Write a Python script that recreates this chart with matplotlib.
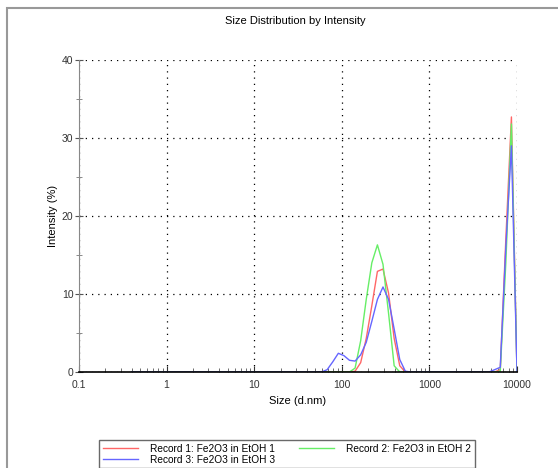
import matplotlib
matplotlib.use("Agg")
import matplotlib.pyplot as plt
from matplotlib.patches import Rectangle
from matplotlib.ticker import FixedLocator, NullFormatter, MultipleLocator

plt.rcParams['font.family'] = ['Liberation Sans', 'DejaVu Sans']

# size bins (d.nm) - only the ones around the peaks, zeros elsewhere
sizes = [0.4, 50.75, 58.77, 68.06, 78.82, 91.28, 105.7, 122.4, 141.8, 164.2,
         190.1, 220.2, 255.0, 295.3, 342.0, 396.1, 458.7, 531.2, 615.1,
         4801, 5560, 6439, 7456, 8635, 10000]

rec1 = [0, 0, 0, 0, 0, 0, 0, 0, 0.1, 1.2,
        4.3, 8.5, 12.9, 13.2, 10.1, 4.3, 0.8, 0, 0,
        0, 0, 0.3, 17.0, 32.7, 0]
rec2 = [0, 0, 0, 0, 0, 0, 0, 0, 0.5, 4.0,
        9.3, 14.0, 16.3, 13.8, 7.5, 0.8, 0, 0, 0,
        0, 0, 0.1, 14.0, 31.8, 0]
rec3 = [0, 0, 0, 0.3, 1.3, 2.4, 2.1, 1.5, 1.4, 2.2,
        3.8, 6.5, 9.3, 10.9, 9.3, 5.5, 1.6, 0.1, 0,
        0, 0.3, 0.6, 16.0, 29.0, 0]

labels = ["Record 1: Fe2O3 in EtOH 1",
          "Record 2: Fe2O3 in EtOH 2",
          "Record 3: Fe2O3 in EtOH 3"]
colors = ["#ff6666", "#66ee66", "#6666ff"]

fig = plt.figure(figsize=(5.58, 4.68), dpi=100)
ax = fig.add_axes([79/558, 96/468, 438/558, 312/468])

lines = []
for y, c, lab in zip([rec1, rec2, rec3], colors, labels):
    l, = ax.plot(sizes, y, color=c, lw=1.0, label=lab, zorder=2)
    lines.append(l)

ax.set_xscale('log')
ax.set_xlim(0.1, 10000)
ax.set_ylim(0, 40)
ax.xaxis.set_major_locator(FixedLocator([0.1, 1, 10, 100, 1000, 10000]))
ax.set_xticklabels(["0.1", "1", "10", "100", "1000", "10000"])
minors = [m * 10.0**e for e in range(-1, 4) for m in range(2, 10)]
ax.xaxis.set_minor_locator(FixedLocator(minors))
ax.xaxis.set_minor_formatter(NullFormatter())
ax.yaxis.set_major_locator(MultipleLocator(10))
ax.yaxis.set_minor_locator(MultipleLocator(5))

ax.tick_params(axis='x', which='major', direction='in', length=4, labelsize=7.5, pad=6,
               color='#333333', labelcolor='#333333')
ax.tick_params(axis='x', which='minor', direction='in', length=3, color='#555555')
ax.tick_params(axis='y', which='major', direction='inout', length=6, labelsize=7.5, pad=1,
               color='#555555', labelcolor='#333333')
ax.tick_params(axis='y', which='minor', direction='inout', length=5, color='#777777')

ax.grid(True, which='major', color='black', linestyle=(0, (1, 4)), lw=0.9)

for s in ['top', 'right']:
    ax.spines[s].set_visible(False)
ax.spines['left'].set_color('#888888')
ax.spines['bottom'].set_color('black')
ax.spines['bottom'].set_linewidth(1.2)

ax.set_xlabel("Size (d.nm)", fontsize=8, labelpad=4)
ax.set_ylabel("Intensity (%)", fontsize=8, labelpad=3)

fig.text(295/558, 1 - 21/468, "Size Distribution by Intensity", fontsize=8,
         ha='center', va='center')

# outer frame
fig.patches.append(Rectangle((7/558, -0.1), 1.2, 1 - 8/468 + 0.1, transform=fig.transFigure,
                             fill=False, edgecolor='#999999', lw=1.5))

leg = fig.legend([lines[0], lines[2], lines[1]], [labels[0], labels[2], labels[1]],
                 loc='upper left', bbox_to_anchor=(99/558, 1 - 440/468),
                 ncol=2, fontsize=7.3, frameon=True, fancybox=False,
                 edgecolor='#444444', handlelength=3.5, handletextpad=1.2,
                 borderpad=0.35, labelspacing=0.1, borderaxespad=0, columnspacing=2.3)
leg.get_frame().set_linewidth(1.0)

fig.savefig("out.png", dpi=100)
